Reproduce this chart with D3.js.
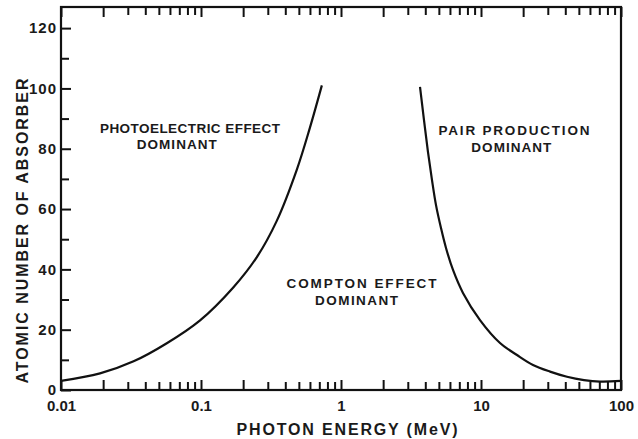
<!DOCTYPE html>
<html>
<head>
<meta charset="utf-8">
<script src="https://cdn.jsdelivr.net/npm/d3@7"></script>
<style>
  html, body { margin: 0; padding: 0; background: #ffffff; }
  svg { display: block; }
  text { font-family: "Liberation Sans", Arial, sans-serif; font-weight: bold; fill: #1a1a1a; }
</style>
</head>
<body>
<svg id="chart" width="638" height="439"></svg>
<script>
// ---------- data ----------
const xTickLabels = ["0.01", "0.1", "1", "10", "100"];
const xTickValues = [0.01, 0.1, 1, 10, 100];
const yTickValues = [0, 20, 40, 60, 80, 100, 120];
const yMinorTicks = [10, 30, 50, 70, 90, 110];

// Photoelectric / Compton boundary (photon energy MeV, atomic number Z)
const photoEnergy = [0.01, 0.019, 0.033, 0.057, 0.098, 0.17, 0.25, 0.347, 0.483, 0.6, 0.73];
const photoZ      = [3.0,  5.5,   9.5,   15.5,  23,    34,   44,   56,    73,    87,  101];

// Compton / pair production boundary
const pairEnergy = [3.667, 3.916, 4.182, 4.467, 4.771, 5.179, 5.623, 6.31, 7.434, 9.837, 13.67, 18.08, 23.52, 31.12, 41.15, 54.41, 70.79, 100];
const pairZ      = [100.5, 89.5, 78.9, 69.6, 61.3, 53.7, 47.1, 39.8, 32.2, 23.2, 15.6, 11.6, 8.3, 6.1, 4.4, 3.3, 2.8, 3.0];

// Region annotations (anchored in data coordinates)
const labelTexts  = ["PHOTOELECTRIC EFFECT", "DOMINANT", "PAIR PRODUCTION", "DOMINANT", "COMPTON EFFECT", "DOMINANT"];
const labelEnergy = [0.0834, 0.0671, 17.2, 16.46, 1.401, 1.290];
const labelZ      = [85.1, 79.8, 84.6, 79.0, 33.7, 28.2];

const xTitle = "PHOTON ENERGY (MeV)";
const yTitle = "ATOMIC NUMBER OF ABSORBER";

(function () {
// ---------- layout ----------
const svg = d3.select("#chart");
const mLeft = 61, mRight = 621, mTop = 7, mBottom = 390;

const x = d3.scaleLog().domain([0.01, 100]).range([mLeft, mRight]);
const y = d3.scaleLinear().domain([0, 127]).range([mBottom, mTop]);

const ink = "#111111";

// log ticks (1..9 per decade)
const allXTicks = x.ticks();
const isDecade = v => xTickValues.some(t => Math.abs(Math.log10(v) - Math.log10(t)) < 1e-6);
const isLongX = v => {
  const m = v / Math.pow(10, Math.floor(Math.log10(v) + 1e-9));
  return isDecade(v) || Math.abs(m - 2) < 1e-6;
};
const labelFor = v => {
  const i = xTickValues.findIndex(t => Math.abs(Math.log10(t) - Math.log10(v)) < 1e-6);
  return i >= 0 ? xTickLabels[i] : "";
};

// bottom axis: ticks inward (upward)
const gb = svg.append("g").attr("transform", `translate(0,${mBottom})`)
  .call(d3.axisBottom(x).tickValues(allXTicks).tickSizeInner(-8).tickSizeOuter(0).tickPadding(10).tickFormat(labelFor));
gb.select(".domain").remove();
gb.selectAll(".tick line").attr("y2", d => isLongX(d) ? -10 : -8).attr("stroke", ink).attr("stroke-width", 2);
gb.selectAll(".tick text").style("font-size", "15px").attr("fill", ink);

// top axis: ticks inward (downward)
const gt = svg.append("g").attr("transform", `translate(0,${mTop})`)
  .call(d3.axisTop(x).tickValues(allXTicks).tickSizeInner(-8).tickSizeOuter(0).tickFormat(() => ""));
gt.select(".domain").remove();
gt.selectAll(".tick line").attr("y2", d => isLongX(d) ? 10 : 8).attr("stroke", ink).attr("stroke-width", 2);

// left axis: ticks inward (rightward)
const gl = svg.append("g").attr("transform", `translate(${mLeft},0)`)
  .call(d3.axisLeft(y).tickValues(yTickValues).tickSizeInner(-10).tickSizeOuter(0).tickPadding(4));
gl.select(".domain").remove();
gl.selectAll(".tick line").attr("stroke", ink).attr("stroke-width", 2);
gl.selectAll(".tick text").style("font-size", "15px").style("letter-spacing", "1px").attr("fill", ink);

const glm = svg.append("g").attr("transform", `translate(${mLeft},0)`)
  .call(d3.axisLeft(y).tickValues(yMinorTicks).tickSizeInner(-8).tickSizeOuter(0).tickFormat(() => ""));
glm.select(".domain").remove();
glm.selectAll(".tick line").attr("stroke", ink).attr("stroke-width", 2);

// frame
svg.append("rect")
  .attr("x", mLeft).attr("y", mTop)
  .attr("width", mRight - mLeft).attr("height", mBottom - mTop)
  .attr("fill", "none").attr("stroke", ink).attr("stroke-width", 2.2);

// curves
const line = d3.line().x(d => x(d[0])).y(d => y(d[1])).curve(d3.curveCatmullRom.alpha(0.5));
svg.append("path")
  .datum(photoEnergy.map((e, i) => [e, photoZ[i]]))
  .attr("d", line).attr("fill", "none").attr("stroke", ink).attr("stroke-width", 2.2);
svg.append("path")
  .datum(pairEnergy.map((e, i) => [e, pairZ[i]]))
  .attr("d", line).attr("fill", "none").attr("stroke", ink).attr("stroke-width", 2.2);

// annotations
const labelWidths = [180, 80, 151, 80, 150, 83];
labelTexts.forEach((t, i) => {
  svg.append("text")
    .attr("x", x(labelEnergy[i])).attr("y", y(labelZ[i]))
    .attr("text-anchor", "middle")
    .attr("textLength", labelWidths[i]).attr("lengthAdjust", "spacing")
    .style("font-size", "13.5px")
    .text(t);
});

// axis titles
svg.append("text")
  .attr("x", 347).attr("y", 435)
  .attr("text-anchor", "middle")
  .attr("textLength", 221).attr("lengthAdjust", "spacing")
  .style("font-size", "16px")
  .text(xTitle);

svg.append("text")
  .attr("transform", "translate(28,231) rotate(-90)")
  .attr("text-anchor", "middle")
  .attr("textLength", 305).attr("lengthAdjust", "spacing")
  .style("font-size", "16px")
  .text(yTitle);
})();
</script>
</body>
</html>
